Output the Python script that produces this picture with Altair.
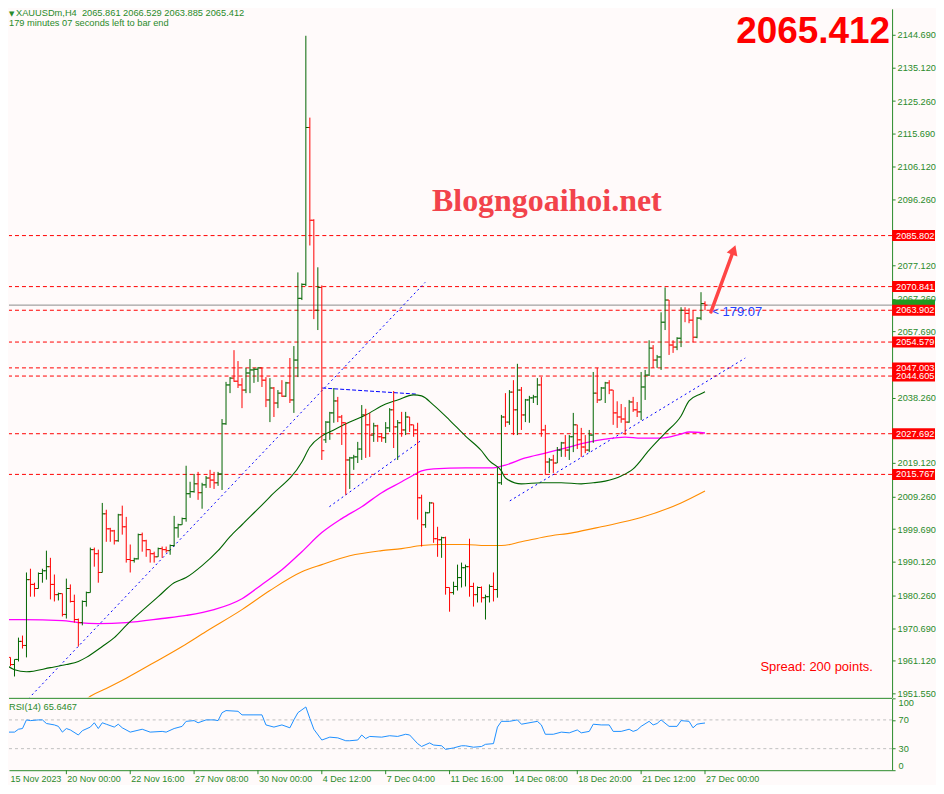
import altair as alt
import pandas as pd

# ---------------- data ----------------
opens = [1971.7, 1963.0, 1962.1, 1960.0, 1961.5, 1966.8, 1965.6, 1984.9, 1983.5, 1982.3,
         1986.7, 1987.5, 1988.7, 1983.5, 1980.5, 1980.8, 1974.7, 1982.3, 1978.5, 1973.2,
         1972.3, 1978.5, 1981.1, 1993.7, 1992.5, 1987.0, 2004.2, 1999.8, 1999.2, 1996.3,
         2003.9, 2000.4, 1990.8, 1990.5, 1991.0, 1998.1, 1996.3, 1993.7, 1992.5, 1991.6,
         1994.0, 1993.7, 1993.4, 1994.9, 2000.1, 2001.0, 2002.8, 2010.1, 2010.7, 2013.0,
         2010.4, 2012.7, 2014.7, 2014.1, 2013.3, 2015.9, 2030.6, 2042.0, 2044.0, 2043.1,
         2042.0, 2040.5, 2045.5, 2046.4, 2046.6, 2047.0, 2043.4, 2037.6, 2041.1, 2036.7,
         2039.6, 2038.7, 2042.6, 2037.6, 2049.3, 2067.4, 2071.5, 2117.5, 2090.3, 2063.9,
         2070.6, 2025.9, 2031.1, 2033.8, 2037.3, 2032.6, 2030.9, 2020.0, 2020.6, 2020.9,
         2023.2, 2033.2, 2030.3, 2027.3, 2030.0, 2026.8, 2026.5, 2029.4, 2034.7, 2029.7,
         2030.9, 2028.8, 2032.6, 2030.3, 2028.8, 2008.9, 2001.0, 2004.5, 2007.4, 1996.9,
         1996.6, 1997.2, 1982.6, 1981.1, 1982.9, 1985.5, 1988.4, 1988.7, 1982.9, 1980.5,
         1982.6, 1979.6, 1979.9, 1982.9, 1982.0, 2013.3, 2032.6, 2031.1, 2039.9, 2034.7,
         2040.5, 2033.2, 2037.6, 2038.2, 2038.5, 2042.0, 2028.8, 2019.4, 2020.0, 2019.1,
         2022.9, 2025.0, 2022.9, 2026.8, 2030.3, 2025.9, 2023.8, 2022.9, 2027.3, 2039.6,
         2037.6, 2041.1, 2042.6, 2040.5, 2033.8, 2032.6, 2032.0, 2031.1, 2037.0, 2034.7,
         2034.1, 2041.4, 2044.9, 2052.8, 2049.3, 2050.2, 2060.4, 2066.9, 2053.7, 2053.1,
         2055.7, 2063.9, 2063.0, 2061.0, 2056.0, 2061.6, 2065.861]
highs = [1975.3, 1964.4, 1962.1, 1961.5, 1967.9, 1968.5, 1987.0, 1988.1, 1984.0, 1987.0,
         1988.1, 1993.4, 1991.3, 1986.4, 1981.1, 1980.8, 1985.2, 1983.5, 1980.5, 1973.5,
         1978.8, 1981.4, 1994.3, 1994.3, 1993.7, 2007.4, 2005.4, 2000.1, 1999.5, 2004.2,
         2006.6, 2003.3, 1995.2, 1991.3, 1998.4, 1998.7, 1996.6, 1993.7, 1993.1, 1994.3,
         1994.6, 1994.6, 1995.2, 2003.6, 2001.3, 2003.1, 2018.3, 2013.6, 2015.9, 2016.5,
         2013.3, 2015.3, 2017.1, 2016.5, 2016.5, 2032.0, 2042.9, 2044.3, 2052.2, 2049.0,
         2044.0, 2047.0, 2049.6, 2047.0, 2047.2, 2047.0, 2044.3, 2044.0, 2041.4, 2040.5,
         2043.4, 2042.9, 2049.9, 2053.4, 2075.0, 2071.8, 2144.4, 2120.4, 2090.6, 2076.5,
         2071.2, 2031.4, 2034.1, 2041.1, 2038.5, 2033.2, 2030.9, 2020.9, 2021.5, 2025.3,
         2036.1, 2035.0, 2033.8, 2030.9, 2030.3, 2027.9, 2031.1, 2035.2, 2040.2, 2031.7,
         2034.1, 2034.1, 2032.6, 2030.3, 2030.9, 2009.8, 2004.8, 2007.7, 2007.4, 2000.4,
         1997.5, 1997.5, 1982.6, 1984.3, 1989.3, 1989.9, 1989.3, 1996.9, 1984.0, 1982.9,
         1982.9, 1980.5, 1983.5, 1987.0, 2017.7, 2033.2, 2039.6, 2040.5, 2043.4, 2048.2,
         2041.4, 2037.9, 2038.8, 2039.1, 2044.0, 2044.3, 2030.3, 2020.6, 2021.5, 2023.8,
         2025.3, 2027.3, 2027.3, 2033.8, 2030.3, 2029.4, 2027.3, 2028.8, 2045.8, 2047.0,
         2041.4, 2042.9, 2043.4, 2040.5, 2037.2, 2036.4, 2035.5, 2037.6, 2038.5, 2037.0,
         2045.8, 2046.4, 2055.1, 2053.7, 2050.8, 2063.3, 2070.6, 2066.9, 2055.1, 2056.0,
         2064.8, 2064.8, 2064.5, 2063.9, 2061.9, 2069.2, 2066.529]
lows = [1955.6, 1960.6, 1959.5, 1956.5, 1960.9, 1964.7, 1962.1, 1979.9, 1979.9, 1982.3,
        1984.0, 1984.9, 1979.1, 1978.5, 1978.8, 1974.1, 1973.5, 1978.2, 1972.3, 1965.3,
        1971.5, 1977.0, 1981.1, 1988.7, 1984.0, 1987.0, 1996.0, 1996.0, 1995.2, 1996.0,
        1998.1, 1989.9, 1987.0, 1989.9, 1990.8, 1993.1, 1991.6, 1989.9, 1989.9, 1991.6,
        1991.3, 1992.8, 1992.2, 1994.6, 1997.2, 2001.0, 2001.9, 2008.9, 2010.4, 2008.3,
        2005.7, 2011.8, 2011.8, 2011.5, 2012.4, 2011.2, 2030.3, 2039.6, 2042.9, 2041.1,
        2035.2, 2039.6, 2039.6, 2042.6, 2042.9, 2041.4, 2035.5, 2031.1, 2032.6, 2035.2,
        2038.5, 2038.5, 2036.7, 2033.8, 2044.3, 2066.9, 2071.0, 2082.9, 2061.3, 2058.1,
        2020.0, 2025.0, 2025.9, 2030.9, 2031.1, 2024.4, 2009.8, 2011.5, 2017.1, 2019.1,
        2020.0, 2020.6, 2020.9, 2025.3, 2025.3, 2025.3, 2025.0, 2028.2, 2023.5, 2020.0,
        2026.8, 2027.3, 2028.2, 2026.8, 2002.5, 1994.6, 2000.1, 2004.5, 1995.7, 1991.6,
        1991.3, 1980.5, 1975.5, 1980.5, 1981.7, 1982.6, 1982.9, 1979.9, 1977.0, 1978.2,
        1978.2, 1973.2, 1978.2, 1978.5, 1979.6, 2012.7, 2029.7, 2030.3, 2027.3, 2027.3,
        2028.8, 2031.1, 2030.9, 2036.7, 2036.1, 2026.8, 2015.6, 2016.2, 2016.2, 2019.1,
        2020.9, 2020.9, 2020.0, 2022.3, 2023.2, 2020.9, 2022.0, 2022.3, 2025.0, 2036.7,
        2037.6, 2036.7, 2039.3, 2030.3, 2029.4, 2030.9, 2027.3, 2030.9, 2034.1, 2032.6,
        2031.7, 2037.6, 2044.6, 2047.0, 2047.0, 2046.4, 2058.1, 2050.8, 2051.4, 2052.2,
        2053.1, 2060.4, 2060.1, 2054.5, 2055.7, 2061.0, 2063.885]
closes = [1963.0, 1962.1, 1960.0, 1961.5, 1966.8, 1965.6, 1984.9, 1983.5, 1982.3, 1986.7,
          1987.5, 1988.7, 1983.5, 1980.5, 1980.8, 1974.7, 1982.3, 1978.5, 1973.2, 1972.3,
          1978.5, 1981.1, 1993.7, 1992.5, 1987.0, 2004.2, 1999.8, 1999.2, 1996.3, 2003.9,
          2000.4, 1990.8, 1990.5, 1991.0, 1998.1, 1996.3, 1993.7, 1992.5, 1991.6, 1994.0,
          1993.7, 1993.4, 1994.9, 2000.1, 2001.0, 2002.8, 2010.1, 2010.7, 2013.0, 2010.4,
          2012.7, 2014.7, 2014.1, 2013.3, 2015.9, 2030.6, 2042.0, 2044.0, 2043.1, 2042.0,
          2040.5, 2045.5, 2046.4, 2046.6, 2047.0, 2043.4, 2037.6, 2041.1, 2036.7, 2039.6,
          2038.7, 2042.6, 2037.6, 2049.3, 2067.4, 2071.5, 2117.5, 2090.3, 2063.9, 2070.6,
          2022.7, 2031.1, 2033.8, 2037.3, 2032.6, 2030.9, 2020.0, 2020.6, 2020.9, 2023.2,
          2033.2, 2030.3, 2027.3, 2030.0, 2026.8, 2026.5, 2029.4, 2034.7, 2029.7, 2030.9,
          2028.8, 2032.6, 2030.3, 2028.8, 2008.9, 2001.0, 2004.5, 2007.4, 1996.9, 1996.6,
          1997.2, 1982.6, 1981.1, 1982.9, 1985.5, 1988.4, 1988.7, 1982.9, 1980.5, 1982.6,
          1979.6, 1979.9, 1982.9, 1982.0, 2013.3, 2032.6, 2031.1, 2039.9, 2034.7, 2040.5,
          2033.2, 2037.6, 2038.2, 2038.5, 2042.0, 2028.8, 2019.4, 2020.0, 2019.1, 2022.9,
          2025.0, 2022.9, 2026.8, 2030.3, 2025.9, 2023.8, 2022.9, 2027.3, 2039.6, 2037.6,
          2041.1, 2042.6, 2040.5, 2033.8, 2032.6, 2032.0, 2031.1, 2037.0, 2034.7, 2034.1,
          2041.4, 2044.9, 2052.8, 2049.3, 2050.2, 2060.4, 2066.9, 2053.7, 2053.1, 2055.7,
          2063.9, 2063.0, 2061.0, 2056.0, 2061.6, 2065.861, 2065.412]

# moving averages (bar index, value)
ma_fast_i = [0, 3, 6, 12, 16, 19, 21, 25, 28, 31, 35, 39, 43, 46, 50, 54, 57, 60, 67, 75,
             77, 80, 83, 87, 91, 96, 99, 103, 105, 108, 112, 116, 120, 122, 125, 126, 130, 135, 140, 145,
             148, 151, 155, 158, 162, 166, 170, 172, 175, 176]
ma_fast_v = [1960.6, 1958.5, 1957.9, 1959.1, 1960.0, 1960.9, 1962.1, 1965.3, 1967.9, 1971.5,
             1975.8, 1979.9, 1984.0, 1985.5, 1989.0, 1993.4, 1997.5, 2001.0, 2009.2, 2019.4,
             2023.8, 2027.0, 2028.8, 2031.1, 2033.2, 2036.4, 2037.6, 2039.1, 2038.8, 2036.1,
             2031.7, 2027.0, 2022.7, 2019.7, 2016.8, 2014.7, 2013.0, 2013.3, 2013.3, 2013.0,
             2013.3, 2013.8, 2015.3, 2017.4, 2022.9, 2027.9, 2032.9, 2037.3, 2039.4, 2040.0]
ma_mid_i = [0, 5, 15, 19, 24, 31, 40, 46, 53, 60, 65, 70, 75, 80, 85, 90, 95, 100, 103, 105,
            108, 116, 123, 126, 131, 136, 141, 146, 151, 156, 160, 165, 170, 172, 176]
ma_mid_v = [1973.2, 1973.2, 1972.9, 1972.3, 1972.0, 1972.3, 1973.5, 1974.4, 1976.1, 1979.3,
            1983.5, 1987.8, 1993.1, 1998.7, 2002.8, 2006.3, 2010.4, 2013.6, 2015.6, 2016.8,
            2017.4, 2017.7, 2017.7, 2018.5, 2020.6, 2022.0, 2023.5, 2025.0, 2026.1, 2026.7,
            2026.4, 2026.4, 2027.6, 2028.2, 2027.9]
ma_slow_i = [21, 22, 26, 31, 38, 45, 51, 60, 67, 75, 80, 87, 95, 100, 105, 110, 116, 121, 125, 130,
             136, 143, 150, 160, 170, 176]
ma_slow_v = [1949.8, 1950.7, 1953.0, 1956.0, 1960.6, 1965.3, 1969.7, 1976.1, 1981.7, 1987.2,
             1989.3, 1991.9, 1993.4, 1994.0, 1994.9, 1995.2, 1995.2, 1994.9, 1994.9, 1996.0,
             1997.5, 1998.7, 2000.4, 2003.1, 2007.4, 2010.9]

# RSI(14)
rsi_i = [0, 1, 3, 4, 5, 6, 7, 9, 10, 11, 13, 14, 15, 16, 17, 19, 20, 22, 23, 24,
         25, 26, 28, 29, 30, 32, 35, 37, 40, 41, 43, 45, 46, 48, 49, 51, 53, 54, 55, 56,
         59, 60, 63, 65, 66, 68, 70, 72, 73, 74, 76, 77, 78, 80, 82, 84, 86, 87, 89, 90,
         91, 92, 95, 97, 99, 101, 102, 104, 105, 107, 108, 110, 111, 113, 115, 116, 118, 120, 121, 123,
         124, 125, 127, 129, 130, 134, 135, 136, 138, 140, 142, 144, 145, 147, 148, 150, 152, 153, 155, 157,
         158, 159, 160, 162, 163, 164, 165, 167, 169, 170, 172, 173, 174, 175, 176]
rsi_v = [55, 53, 53, 57, 58, 70, 69, 70, 70, 65, 63, 61, 53, 58, 56, 49, 55, 60, 66, 58,
         66, 64, 60, 64, 59, 53, 57, 53, 54, 53, 58, 61, 68, 69, 66, 70, 70, 69, 80, 83,
         82, 77, 77, 77, 63, 60, 63, 59, 70, 80, 88, 72, 57, 42, 46, 45, 41, 41, 42, 49,
         44, 47, 46, 48, 47, 50, 49, 37, 33, 38, 35, 34, 29, 31, 34, 34, 32, 33, 36, 37,
         60, 68, 68, 70, 64, 68, 63, 50, 50, 53, 52, 56, 52, 54, 64, 63, 63, 54, 54, 57,
         54, 56, 61, 68, 63, 65, 70, 61, 61, 69, 68, 59, 64, 65, 65.6467]
rsi_guides = [70, 30]

# horizontal levels, current price, axis grid
levels = [2085.802, 2070.841, 2063.902, 2054.579, 2047.003, 2044.605, 2027.692, 2015.767]
last_price = [2065.412]
price_ticks = [2144.690, 2135.120, 2125.260, 2115.690, 2106.120, 2096.260, 2077.120, 2067.260,
               2057.690, 2038.260, 2019.120, 2009.260, 1999.690, 1990.120,
               1980.260, 1970.690, 1961.120, 1951.550]

# trend lines (bar index, price)
trend_a_i, trend_a_p = [6.5, 105.9], [1950.0, 2072.1]
trend_b_i, trend_b_p = [81.9, 105.1], [2006.3, 2025.9]
trend_c_i, trend_c_p = [80.1, 103.9], [2041.1, 2039.3]
trend_d_i, trend_d_p = [127.1, 186.1], [2008.0, 2049.9]
arrow_i, arrow_p = [177.5, 183.2], [2063.4, 2081.6]

time_idx = [0, 16, 32, 48, 64, 80, 96, 112, 128, 144, 160, 176]
time_labels = ["15 Nov 2023", "20 Nov 00:00", "22 Nov 16:00", "27 Nov 08:00", "30 Nov 00:00",
               "4 Dec 12:00", "7 Dec 04:00", "11 Dec 16:00", "14 Dec 08:00", "18 Dec 20:00",
               "21 Dec 12:00", "27 Dec 00:00"]

# ---------------- styling / layout ----------------
UP = "#006400"
DOWN = "#ff0000"
FG = "#2a8a2a"
BG = "#fffafa"
W, H_MAIN, H_RSI = 885, 690, 72
X_DOM = [1.625, 222.875]
Y_DOM = [1950.38, 2152.30]
FS = 9.2

xs = alt.Scale(domain=X_DOM, nice=False, zero=False)
ys = alt.Scale(domain=Y_DOM, nice=False, zero=False)
rs = alt.Scale(domain=[0, 100], nice=False, zero=False)

price_axis = alt.Axis(orient="right", values=price_ticks, format=".3f", title=None, grid=False,
                      domainColor=FG, tickColor=FG, tickSize=3, labelColor=FG, labelFontSize=FS,
                      labelPadding=2, labelOverlap=False)


def PX(f):
    return alt.X(f, type="quantitative", scale=xs, axis=None)


def PY(f):
    return alt.Y(f, type="quantitative", scale=ys, axis=price_axis)


one = pd.DataFrame({"k": [0]})


def label(text, x, y, **kw):
    return alt.Chart(one).mark_text(text=text, **kw).encode(x=alt.value(x), y=alt.value(y))


def line_chart(iv, pv, **kw):
    df = pd.DataFrame({"i": iv, "p": pv})
    return alt.Chart(df).mark_line(clip=True, **kw).encode(x=PX("i"), y=PY("p"))


bars = pd.DataFrame({"i": list(range(len(opens))), "o": opens, "h": highs, "l": lows, "c": closes})
bars["dir"] = ["up" if c >= o else "down" for o, c in zip(opens, closes)]
bar_color = alt.Color("dir:N", scale=alt.Scale(domain=["up", "down"], range=[UP, DOWN]), legend=None)
bb = alt.Chart(bars).transform_filter("datum.i >= 2")

hl = bb.mark_rule(clip=True, strokeWidth=1).encode(x=PX("i"), y=PY("l"), y2=alt.Y2("h"), color=bar_color)
ot = bb.transform_calculate(io="datum.i - 0.625").mark_rule(clip=True, strokeWidth=1).encode(
    x=PX("io"), x2=alt.X2("i"), y=PY("o"), color=bar_color)
ct = bb.transform_calculate(ic="datum.i + 0.625").mark_rule(clip=True, strokeWidth=1).encode(
    x=PX("i"), x2=alt.X2("ic"), y=PY("c"), color=bar_color)

lv = pd.DataFrame({"p": levels, "label": [f"{v:.3f}" for v in levels]})
cur = pd.DataFrame({"p": last_price})

lv_rules = alt.Chart(lv).mark_rule(color=DOWN, strokeDash=[4, 3], strokeWidth=1).encode(y=PY("p"))
cur_rule = alt.Chart(cur).mark_rule(color="#8c8c8c", strokeWidth=1).encode(y=PY("p"))

trend_a = line_chart(trend_a_i, trend_a_p, color="#0000ff", strokeDash=[2, 3], strokeWidth=1)
trend_b = line_chart(trend_b_i, trend_b_p, color="#0000ff", strokeDash=[2, 3], strokeWidth=1)
trend_c = line_chart(trend_c_i, trend_c_p, color="#0000ff", strokeDash=[4, 2], strokeWidth=1)
trend_d = line_chart(trend_d_i, trend_d_p, color="#0000ff", strokeDash=[2, 3], strokeWidth=1)

ma_slow = line_chart(ma_slow_i, ma_slow_v, color="#ff8c00", strokeWidth=1.1, interpolate="monotone")
ma_mid = line_chart(ma_mid_i, ma_mid_v, color="#ff00ff", strokeWidth=1.3, interpolate="monotone")
ma_fast = line_chart(ma_fast_i, ma_fast_v, color="#006400", strokeWidth=1.1, interpolate="monotone")

arrow_df = pd.DataFrame({"i": arrow_i, "p": arrow_p})
arrow_line = alt.Chart(arrow_df).mark_line(color="#ff4545", strokeWidth=3.5, strokeCap="round").encode(
    x=PX("i"), y=PY("p"))
arrow_head = alt.Chart(arrow_df.tail(1)).mark_point(shape="triangle-up", filled=True, size=130, angle=20,
                                                     color="#ff4545", opacity=1).encode(x=PX("i"), y=PY("p"))

box_calc = dict(top="datum.p + 1.61", bot="datum.p - 1.61")
cur_box = alt.Chart(cur).transform_calculate(**box_calc).mark_rect(color="#1f9a1f").encode(
    x=alt.value(W), x2=alt.value(W + 43), y=PY("top"), y2=alt.Y2("bot"))
lv_box = alt.Chart(lv).transform_calculate(**box_calc).mark_rect(color=DOWN).encode(
    x=alt.value(W), x2=alt.value(W + 43), y=PY("top"), y2=alt.Y2("bot"))
lv_txt = alt.Chart(lv).mark_text(align="left", baseline="middle", color="white", fontSize=FS).encode(
    x=alt.value(W + 4), y=PY("p"), text="label:N")

wm = label("Blogngoaihoi.net", 539, 193, align="center", baseline="middle", font="Liberation Serif",
           fontWeight="bold", fontSize=32, color="#f2434b")
big = label("2065.412", 883, 5, align="right", baseline="top", fontWeight="bold", fontSize=37,
            color="#ff0000")
tri = label("\u25bc", 0, 1, align="left", baseline="top", font="DejaVu Sans", fontSize=7, color=FG)
hdr1 = label("XAUUSDm,H4\u00a0 2065.861 2066.529 2063.885 2065.412", 7, 0, align="left", baseline="top",
             fontSize=9.3, color=FG)
hdr2 = label("179 minutes 07 seconds left to bar end", 0, 14, align="left", baseline="middle",
             fontSize=9.3, color=FG)
timer_lt = label("<", 705, 304, align="left", baseline="middle", fontSize=11, color="#2040ff")
timer = label("179:07", 715, 304, align="left", baseline="middle", fontSize=13, color="#2040ff")
spread = label("Spread: 200 points.", 753, 660, align="left", baseline="middle", fontSize=13, color="#ff0000")

main = alt.layer(
    lv_rules, cur_rule, trend_a, trend_b, trend_c, trend_d,
    ma_slow, ma_mid, ma_fast, hl, ot, ct,
    arrow_line, arrow_head, wm, big, tri, hdr1, hdr2, timer_lt, timer, spread,
    cur_box, lv_box, lv_txt,
).properties(width=W, height=H_MAIN)

# ---------------- RSI panel ----------------
rsi_x_axis = alt.Axis(orient="bottom", labels=False, ticks=False, title=None, grid=False, domainColor=FG)
rsi_y_axis = alt.Axis(orient="right", values=[0, 30, 70, 100], title=None, grid=False, domainColor=FG,
                      tickColor=FG, tickSize=3, labelColor=FG, labelFontSize=FS, labelPadding=3,
                      labelFlush=True, labelOverlap=False)


def RX(f):
    return alt.X(f, type="quantitative", scale=xs, axis=rsi_x_axis)


def RY(f):
    return alt.Y(f, type="quantitative", scale=rs, axis=rsi_y_axis)


rsi_df = pd.DataFrame({"i": rsi_i, "v": rsi_v})
rsi_lv = alt.Chart(pd.DataFrame({"v": rsi_guides})).mark_rule(color="#c0c0c0", strokeDash=[3, 3]).encode(y=RY("v"))
rsi_line = alt.Chart(rsi_df).mark_line(color="#1e90ff", strokeWidth=1, clip=True).encode(x=RX("i"), y=RY("v"))
rsi_top = alt.Chart(one).mark_rule(color=FG).encode(x=alt.value(0), x2=alt.value(W), y=alt.value(0))
rsi_title = label("RSI(14) 65.6467", 0, 9, align="left", baseline="middle", fontSize=9.3, color=FG)

tdf = pd.DataFrame({"i": time_idx, "label": time_labels})
t_ticks = alt.Chart(tdf).transform_filter("datum.i > 1").mark_rule(color=FG).encode(
    x=RX("i"), y=alt.value(H_RSI), y2=alt.value(H_RSI + 4))
t_labels = alt.Chart(tdf).transform_calculate(xl="max(datum.i, 1.75)").mark_text(
    align="left", baseline="middle", dx=1, fontSize=9, color=FG).encode(
    x=RX("xl"), y=alt.value(H_RSI + 9), text="label:N")

rsi = alt.layer(rsi_lv, rsi_line, rsi_top, rsi_title, t_ticks, t_labels).properties(width=W, height=H_RSI)

chart = (
    alt.vconcat(main, rsi, spacing=1, bounds="flush")
    .properties(padding=0, background=BG)
    .configure(font="Liberation Sans")
    .configure_view(stroke=None)
)

chart.save("out.html", embed_options={"renderer": "svg", "actions": False})
